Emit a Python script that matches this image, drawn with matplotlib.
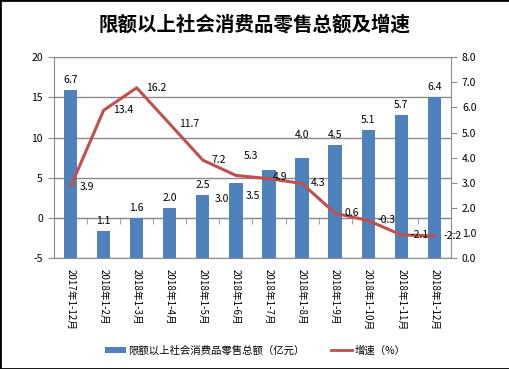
import matplotlib
matplotlib.use('Agg')
import matplotlib.pyplot as plt
from matplotlib.patches import Patch, Rectangle
from matplotlib.lines import Line2D
import numpy as np

plt.rcParams['font.family'] = ['Noto Sans CJK SC', 'DejaVu Sans']
plt.rcParams['axes.unicode_minus'] = False

# data
categories = ['2017年1-12月', '2018年1-2月', '2018年1-3月', '2018年1-4月',
              '2018年1-5月', '2018年1-6月', '2018年1-7月', '2018年1-8月',
              '2018年1-9月', '2018年1-10月', '2018年1-11月', '2018年1-12月']
total_sales = [6.7, 1.1, 1.6, 2.0, 2.5, 3.0, 3.5, 4.0, 4.5, 5.1, 5.7, 6.4]
growth = [3.9, 13.4, 16.2, 11.7, 7.2, 5.3, 4.9, 4.3, 0.6, -0.3, -2.1, -2.2]

title = '限额以上社会消费品零售总额及增速'
bar_name = '限额以上社会消费品零售总额（亿元）'
line_name = '增速（%）'

BAR_COLOR = '#4F81BD'
LINE_COLOR = '#C0504D'
GRID_COLOR = '#8C8C8C'

# label placement tweaks (pixels), as in the original sheet
bar_label_shift = {5: (-14, -16), 6: (-16, -26), 7: (0, 23)}
line_label_shift = {5: (8, 19), 6: (4, 2)}

x = np.arange(len(categories))

fig = plt.figure(figsize=(5.1, 3.69), dpi=100)
fig.patch.set_facecolor('white')

# axes for grid + left scale
ax_grid = fig.add_axes([0.106, 0.300, 0.778, 0.545])
ax_bar = ax_grid.twinx()
ax_line = ax_grid.twinx()

ax_grid.set_xlim(-0.5, len(categories) - 0.5)
ax_grid.set_ylim(-5, 20)
ax_grid.set_yticks(range(-5, 21, 5))
ax_grid.yaxis.grid(True, color=GRID_COLOR, lw=1)
ax_grid.set_axisbelow(True)
for s in ['top', 'right']:
    ax_grid.spines[s].set_visible(False)
ax_grid.spines['left'].set_color(GRID_COLOR)
ax_grid.spines['bottom'].set_color(GRID_COLOR)
ax_grid.spines['bottom'].set_position(('data', 0))
ax_grid.tick_params(axis='y', direction='out', length=4, color=GRID_COLOR,
                    labelsize=7.5, pad=4)

# shared x ticks: categories (major) and boundaries (minor)
ax_grid.set_xticks(x)
ax_grid.set_xticks(np.arange(-0.5, len(categories), 1.0), minor=True)
ax_grid.set_xticklabels(categories)
ax_grid.tick_params(axis='x', which='major', length=0, labelbottom=False)
ax_grid.tick_params(axis='x', which='minor', direction='out', length=4,
                    color=GRID_COLOR)

# bars on right scale
ax_bar.xaxis.set_visible(True)
ax_bar.bar(x, total_sales, width=0.4, color=BAR_COLOR, zorder=2)
ax_bar.set_ylim(0, 8)
ax_bar.set_yticks(np.arange(0, 9, 1))
ax_bar.set_yticklabels(['%.1f' % v for v in np.arange(0, 9, 1)])
ax_bar.tick_params(axis='y', direction='out', length=4, color=GRID_COLOR,
                   labelsize=7.5, pad=4)
ax_bar.spines['left'].set_visible(False)
for s in ['right', 'top', 'bottom']:
    ax_bar.spines[s].set_color(GRID_COLOR)
ax_bar.tick_params(axis='x', which='major', length=0, labelsize=7, pad=8,
                   labelrotation=-90, labelbottom=True)
ax_bar.tick_params(axis='x', which='minor', length=0)
for lbl in ax_bar.get_xticklabels():
    lbl.set_va('top')

for i, v in enumerate(total_sales):
    dx, dy = bar_label_shift.get(i, (0, 10))
    ax_bar.annotate('%.1f' % v, (x[i], v), xytext=(dx, dy),
                    textcoords='offset pixels', ha='center', va='center',
                    fontsize=7.5)

# growth line on left scale
ax_line.set_ylim(-5, 20)
ax_line.axis('off')
ax_line.plot(x, growth, color=LINE_COLOR, lw=2.2)
for i, v in enumerate(growth):
    dx, dy = line_label_shift.get(i, (9, 0))
    ax_line.annotate('%.1f' % v, (x[i], v), xytext=(dx, dy),
                     textcoords='offset pixels', ha='left', va='center',
                     fontsize=7.5)

fig.text(0.5, 0.932, title, ha='center', va='center', fontsize=14,
         fontweight='bold')

handles = [Patch(facecolor=BAR_COLOR, edgecolor='none'),
           Line2D([0], [0], color=LINE_COLOR, lw=2)]
fig.legend(handles, [bar_name, line_name], loc='center',
           bbox_to_anchor=(0.5, 0.05), ncol=2, frameon=False, fontsize=7.5,
           handlelength=2.0, handleheight=0.6, handletextpad=0.2,
           columnspacing=2.6)

fig.add_artist(Rectangle((0, 0), 1, 1, transform=fig.transFigure,
                         fill=False, ec='black', lw=2))

fig.savefig('out.png', dpi=100)
